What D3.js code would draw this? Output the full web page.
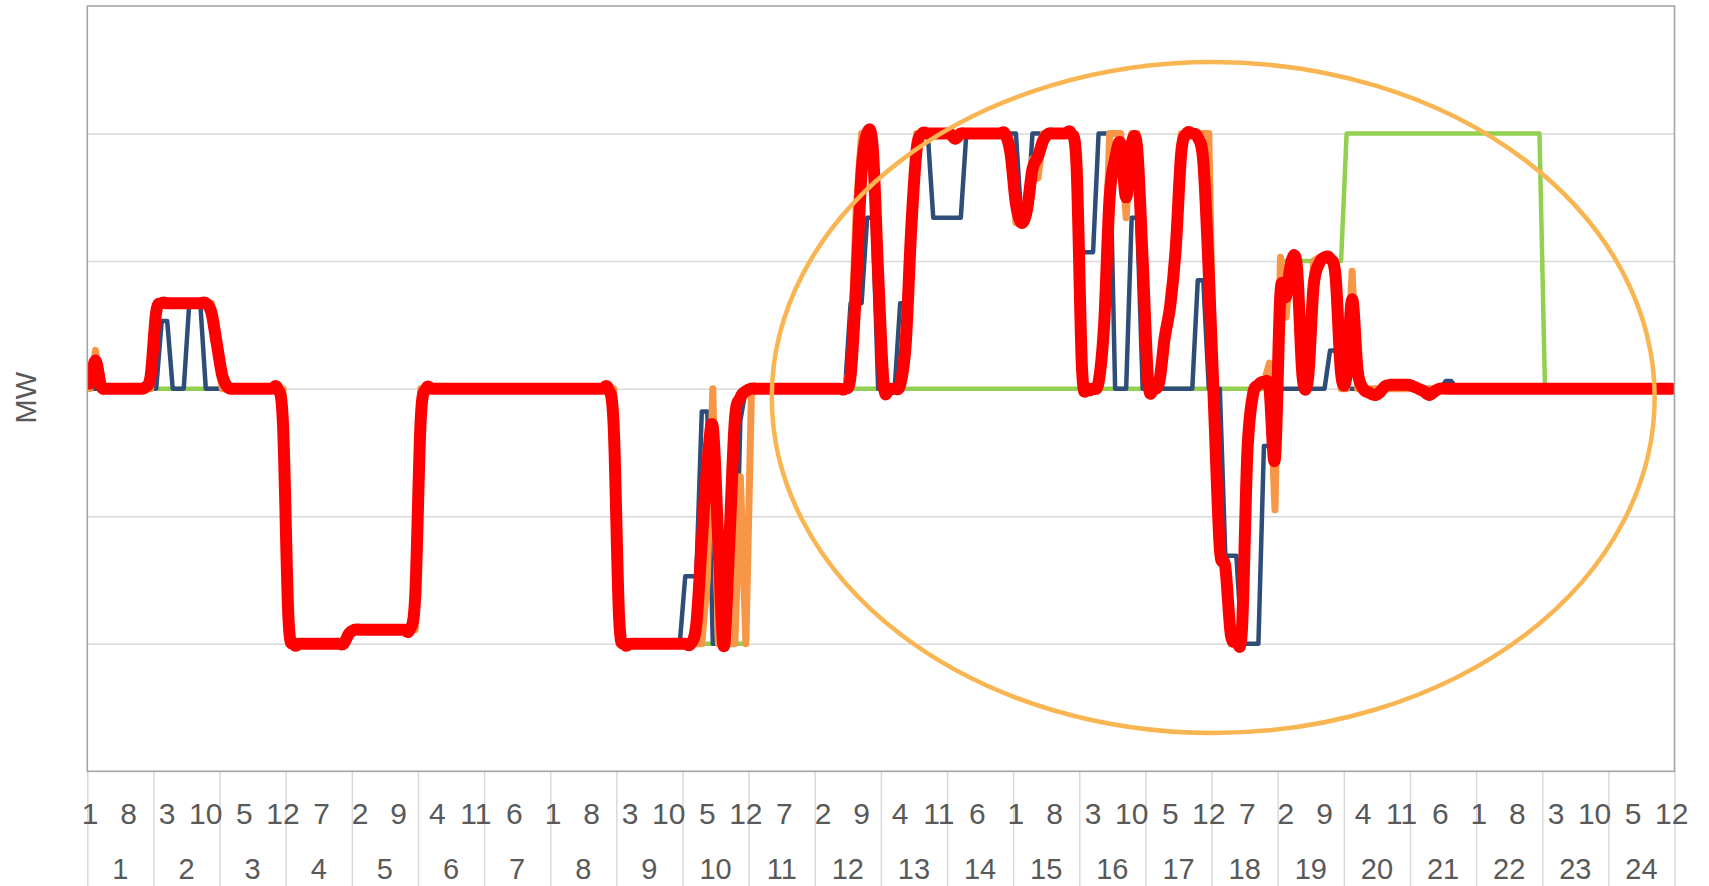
<!DOCTYPE html>
<html>
<head>
<meta charset="utf-8">
<script src="https://cdn.jsdelivr.net/npm/d3@7"></script>
<style>
  html, body { margin: 0; padding: 0; background: #ffffff; }
  svg { display: block; }
  text { font-family: "Liberation Sans", Arial, sans-serif; fill: #595959; }
</style>
</head>
<body>
<svg id="chart" width="1709" height="886"></svg>
<script>
// Categories: 24 hours, each split into twelve 5-minute intervals
const hours = d3.range(1, 25).map(String);
const intervals = d3.range(1, 13).map(String);
const intervalLabelStep = 7;
const gridValues = [-2, -1, 0, 1, 2];
const yDomain = [-3, 3];
const yTitle = "MW";

// Series values (MW), one row per hour
const green = [
  0,0,0,0,0,0,0,0,0,0,0,0,
  0,0,0,0,0,0,0,0,0,0,0,0,
  0,0,0,0,0,0,0,0,0,0,0,0,
  -2,-2,-2,-2,-2,-2,-2,-2,-2,-2,-2,-1.89,
  -1.89,-1.89,-1.89,-1.89,-1.89,-1.89,-1.89,-1.89,-1.89,-1.89,-1.89,-1.89,
  0,0,0,0,0,0,0,0,0,0,0,0,
  0,0,0,0,0,0,0,0,0,0,0,0,
  0,0,0,0,0,0,0,0,0,0,0,0,
  -2,-2,-2,-2,-2,-2,-2,-2,-2,-2,-2,-2,
  -2,-2,-2,-2,-2,-2,-2,-2,-2,-2,-2,-2,
  0,0,0,0,0,0,0,0,0,0,0,0,
  0,0,0,0,0,0,0,0,0,0,0,0,
  0,0,0,0,0,0,0,0,0,0,0,0,
  0,0,0,0,0,0,0,0,0,0,0,0,
  0,0,0,0,0,0,0,0,0,0,0,0,
  0,0,0,0,0,0,0,0,0,0,0,0,
  0,0,0,0,0,0,0,0,0,0,0,0,
  0,0,0,0,0,0,0,0,0,0,0,0,
  1,1,1,1,1,1,1,1,1,1,1,1,
  2,2,2,2,2,2,2,2,2,2,2,2,
  2,2,2,2,2,2,2,2,2,2,2,2,
  2,2,2,2,2,2,2,2,2,2,2,2,
  0,0,0,0,0,0,0,0,0,0,0,0,
  0,0,0,0,0,0,0,0,0,0,0,0
];

const blue = [
  0,0,0,0,0,0,0,0,0,0,0,0,
  0,0.53,0.53,0,0,0,0.67,0.67,0.67,0,0,0,
  0,0,0,0,0,0,0,0,0,0,0,0,
  -2,-2,-2,-2,-2,-2,-2,-2,-2,-2,-2,-1.89,
  -1.89,-1.89,-1.89,-1.89,-1.89,-1.89,-1.89,-1.89,-1.89,-1.89,-1.89,-1.89,
  0,0,0,0,0,0,0,0,0,0,0,0,
  0,0,0,0,0,0,0,0,0,0,0,0,
  0,0,0,0,0,0,0,0,0,0,0,0,
  -2,-2,-2,-2,-2,-2,-2,-2,-2,-2,-2,-2,
  -1.47,-1.47,-1.47,-0.18,-0.18,-2,-2,-2,-2,-2,-0.25,0,
  0,0,0,0,0,0,0,0,0,0,0,0,
  0,0,0,0,0,0,0.67,0.67,0.67,1.34,1.34,0,
  0,0,0,0.67,0.67,1.34,2,2,2,1.34,1.34,1.34,
  1.34,1.34,1.34,2,2,2,2,2,2,2,2,2,
  2,1.32,1.32,2,2,2,2,2,2,2,2,2,
  1.07,1.07,1.07,2,2,2,0,0,0,1.34,1.34,0,
  0,0,0,0,0,0,0,0,0,0.85,0.85,0,
  0,0,-1.31,-1.31,-1.31,-2,-2,-2,-2,-0.45,-0.45,0,
  0,0,0,0,0,0,0,0,0,0.3,0.3,0,
  0,0,0,0,0,0,0,0,0,0,0,0,
  0,0,0,0,0,0,0.06,0.06,0,0,0,0,
  0,0,0,0,0,0,0,0,0,0,0,0,
  0,0,0,0,0,0,0,0,0,0,0,0,
  0,0,0,0,0,0,0,0,0,0,0,0
];

const orange = [
  0,0.3,0,0,0,0,0,0,0,0,0,0,
  0.67,0.67,0.67,0.67,0.67,0.67,0.67,0.67,0.67,0.67,0.67,0.3,
  0,0,0,0,0,0,0,0,0,0,0,0,
  -2,-2,-2,-2,-2,-2,-2,-2,-2,-2,-2,-1.89,
  -1.89,-1.89,-1.89,-1.89,-1.89,-1.89,-1.89,-1.89,-1.89,-1.89,-1.89,-1.89,
  0,0,0,0,0,0,0,0,0,0,0,0,
  0,0,0,0,0,0,0,0,0,0,0,0,
  0,0,0,0,0,0,0,0,0,0,0,0,
  -2,-2,-2,-2,-2,-2,-2,-2,-2,-2,-2,-2,
  -2,-2,-2,-2,-1.5,0,-2,-2,-2,-2,-0.69,-2,
  -0.05,0,0,0,0,0,0,0,0,0,0,0,
  0,0,0,0,0,0,0.2,1.4,2,2,2,0.7,
  0,0,0,0,0.67,1.34,2,2,2,2,2,2,
  2,2,2,2,2,2,2,2,2,2,2,1.9,
  1.3,1.3,1.35,1.8,1.65,2,2,2,2,2,2,1.9,
  0,0,0,0,0.6,2,2,2,1.34,2,2,1.0,
  0,0,0,0.4,0.67,1.34,2,2,2,2,2,2,
  -0.3,-1.2,-1.4,-2,-2,-2,-0.5,0,0,0.05,0.2,-0.95,
  1.03,0.56,1.03,1.03,0,0,1.0,1.03,1.03,1.03,1.0,0,
  0,0.92,0,0,0,0,0,0,0,0,0,0,
  0,0,0,0,0,0,0,0,0,0,0,0,
  0,0,0,0,0,0,0,0,0,0,0,0,
  0,0,0,0,0,0,0,0,0,0,0,0,
  0,0,0,0,0,0,0,0,0,0,0,0
];

const red = [
  0.04,0.22,0.02,0,0,0,0,0,0,0,0.01,0.1,
  0.6,0.67,0.67,0.67,0.67,0.67,0.67,0.67,0.67,0.67,0.6,0.35,
  0.1,0.01,0,0,0,0,0,0,0,0,0,-0.27,
  -1.8,-2,-2,-2,-2,-2,-2,-2,-2,-2,-2,-1.92,
  -1.89,-1.89,-1.89,-1.89,-1.89,-1.89,-1.89,-1.89,-1.89,-1.89,-1.89,-1.63,
  -0.24,0,0,0,0,0,0,0,0,0,0,0,
  0,0,0,0,0,0,0,0,0,0,0,0,
  0,0,0,0,0,0,0,0,0,0,0,-0.28,
  -1.8,-2,-2,-2,-2,-2,-2,-2,-2,-2,-2,-2,
  -2,-2,-1.85,-1.2,-0.6,-0.3,-1.2,-2.02,-1.2,-0.25,-0.07,-0.02,
  0,0,0,0,0,0,0,0,0,0,0,0,
  0,0,0,0,0,0,0.1,0.8,1.7,2,1.9,0.9,
  0.03,0,0,0.03,0.35,1.25,1.88,2,2,2,2,2,
  2,1.96,2,2,2,2,2,2,2,2,2,1.85,
  1.45,1.3,1.4,1.72,1.82,1.95,2,2,2,2,2,1.75,
  0.15,0,0,0.05,0.5,1.5,1.8,1.92,1.5,1.92,1.88,1.0,
  0.05,0,0.05,0.4,0.65,1.1,1.85,2,2,1.97,1.78,0.9,
  -0.2,-1.25,-1.4,-1.93,-1.96,-1.9,-0.5,-0.05,0.03,0.05,0,-0.55,
  0.75,0.72,1.0,0.95,0.1,0.08,0.8,0.98,1.03,1.02,0.88,0.12,
  0.1,0.7,0.14,0,-0.03,-0.05,-0.03,0.02,0.03,0.03,0.03,0.03,
  0.02,0,-0.02,-0.05,-0.02,0,0,0,0,0,0,0,
  0,0,0,0,0,0,0,0,0,0,0,0,
  0,0,0,0,0,0,0,0,0,0,0,0,
  0,0,0,0,0,0,0,0,0,0,0,0
];

// Annotated period, in interval positions and MW
const highlight = { from: 124.2, to: 284.4, top: 2.56, bottom: -2.70 };

// ---- layout ----
const W = 1709, H = 886;
const plot = { left: 87.3, right: 1674.5, top: 6, bottom: 771.3 };
const svg = d3.select("#chart");
svg.append("rect").attr("width", W).attr("height", H).attr("fill", "#ffffff");

const nSlots = hours.length * intervals.length;
const slots = d3.range(nSlots);
const x = d3.scaleBand().domain(slots).range([plot.left, plot.right]).padding(0);
const xHour = d3.scaleBand().domain(hours).range([plot.left, plot.right]).padding(0);
const xPos = d3.scaleLinear().domain([0, nSlots]).range([plot.left, plot.right]);
const xDiv = d3.scaleLinear().domain([0, hours.length]).range([plot.left, plot.right]);
const y = d3.scaleLinear().domain(yDomain).range([plot.bottom, plot.top]);
const cx = i => x(i) + x.bandwidth() / 2;

// horizontal gridlines
svg.append("g")
  .attr("transform", `translate(${plot.left},0)`)
  .call(d3.axisLeft(y).tickValues(gridValues).tickSize(-(plot.right - plot.left)).tickFormat(""))
  .call(g => g.select(".domain").remove())
  .call(g => g.selectAll("line").attr("stroke", "#d9d9d9").attr("stroke-width", 1.5));

// group dividers below the axis
svg.append("g")
  .attr("transform", `translate(0,${plot.bottom})`)
  .call(d3.axisBottom(xDiv).tickValues(d3.range(0, hours.length + 1)).tickSize(H - plot.bottom).tickFormat(""))
  .call(g => g.select(".domain").remove())
  .call(g => g.selectAll("line").attr("stroke", "#d9d9d9").attr("stroke-width", 1.5));

// series lines
svg.append("clipPath").attr("id", "plotClip")
  .append("rect")
  .attr("x", plot.left).attr("y", plot.top)
  .attr("width", plot.right - plot.left).attr("height", plot.bottom - plot.top);

const lines = svg.append("g").attr("clip-path", "url(#plotClip)");
const straight = d3.line().x((d, i) => cx(i)).y(d => y(d));
const smooth = d3.line().x((d, i) => cx(i)).y(d => y(d)).curve(d3.curveCardinal.tension(0));

const series = [
  { values: green,  color: "#92d050", width: 4.5, gen: straight },
  { values: blue,   color: "#2e4d78", width: 4.5, gen: straight },
  { values: orange, color: "#f79646", width: 7,   gen: straight },
  { values: red,    color: "#ff0000", width: 12,  gen: smooth }
];
series.forEach(s => {
  lines.append("path")
    .attr("d", s.gen(s.values))
    .attr("fill", "none")
    .attr("stroke", s.color)
    .attr("stroke-width", s.width)
    .attr("stroke-linejoin", "round")
    .attr("stroke-linecap", "round");
});

// plot border
svg.append("rect")
  .attr("x", plot.left).attr("y", plot.top)
  .attr("width", plot.right - plot.left).attr("height", plot.bottom - plot.top)
  .attr("fill", "none").attr("stroke", "#a6a6a6").attr("stroke-width", 1.6);

// interval labels
const inner = svg.append("g")
  .attr("transform", `translate(0,${plot.bottom})`)
  .call(d3.axisBottom(x)
    .tickValues(slots.filter(i => i % intervalLabelStep === 0))
    .tickFormat(i => intervals[i % intervals.length])
    .tickSize(0));
inner.select(".domain").remove();
inner.selectAll("text")
  .attr("y", 0).attr("dy", 0)
  .attr("transform", "translate(0,53)")
  .style("font-size", "30px").style("fill", "#595959")
  .style("font-family", "'Liberation Sans', Arial, sans-serif");

// hour labels
const outer = svg.append("g")
  .attr("transform", `translate(0,${plot.bottom})`)
  .call(d3.axisBottom(xHour).tickSize(0));
outer.select(".domain").remove();
outer.selectAll("text")
  .attr("y", 0).attr("dy", 0)
  .attr("transform", "translate(0,108)")
  .style("font-size", "29px").style("fill", "#595959")
  .style("font-family", "'Liberation Sans', Arial, sans-serif");

// y axis title
svg.append("text")
  .attr("transform", `translate(35.5,${(plot.top + plot.bottom) / 2 + 9}) rotate(-90)`)
  .attr("text-anchor", "middle")
  .style("font-size", "29px")
  .text(yTitle);

// highlight ellipse
svg.append("ellipse")
  .attr("cx", (xPos(highlight.from) + xPos(highlight.to)) / 2)
  .attr("cy", (y(highlight.top) + y(highlight.bottom)) / 2)
  .attr("rx", (xPos(highlight.to) - xPos(highlight.from)) / 2)
  .attr("ry", (y(highlight.bottom) - y(highlight.top)) / 2)
  .attr("fill", "none")
  .attr("stroke", "#f9b552")
  .attr("stroke-width", 4.5);
</script>
</body>
</html>
